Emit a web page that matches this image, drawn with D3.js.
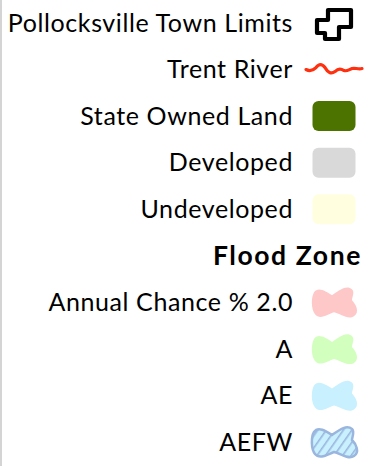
<!DOCTYPE html>
<html><head><meta charset="utf-8">
<script src="https://cdn.jsdelivr.net/npm/d3@7"></script>
<style>html,body{margin:0;padding:0;background:#fff;}svg{display:block;}</style>
</head><body>
<script>
const labels = ["Pollocksville Town Limits","Trent River","State Owned Land","Developed","Undeveloped","Flood Zone","Annual Chance % 2.0","A","AE","AEFW"];
const symbolTypes = ["outline","river","rect","rect","rect","header","blob","blob","blob","hatch"];
const fills = ["none","none","#4c7300","#d9d9d9","#ffffdf","none","#ffc8c8","#d3ffbe","#c8f0ff","#c8f0ff"];
const strokes = ["#000000","#ff3010","none","none","none","none","none","none","none","#9ab6de"];

const W = 367, H = 466;
const svg = d3.select("body").append("svg").attr("width", W).attr("height", H);

svg.append("line").attr("x1",1).attr("x2",1).attr("y1",0).attr("y2",H)
  .attr("stroke","#d4d4d4").attr("stroke-width",2);

const defs = svg.append("defs");
const pat = defs.append("pattern").attr("id","hatch").attr("patternUnits","userSpaceOnUse")
  .attr("width",7).attr("height",7).attr("patternTransform","rotate(35)");
pat.append("rect").attr("width",7).attr("height",7).attr("fill","#c8f0ff");
pat.append("line").attr("x1",0).attr("x2",0).attr("y1",0).attr("y2",7)
  .attr("stroke","#9ab6de").attr("stroke-width",3.2);

const y = d3.scalePoint().domain(labels).range([23, 442]);
const rows = labels.map((l,i)=>({label:l, type:symbolTypes[i], fill:fills[i], stroke:strokes[i]}));

const g = svg.selectAll("g.row").data(rows).join("g").attr("class","row")
  .attr("transform", d=>`translate(0,${y(d.label)})`);

g.append("text")
  .attr("x", d=> d.type==="header" ? 362 : 293)
  .attr("y", 0).attr("dy","0.35em")
  .attr("text-anchor","end")
  .attr("font-family","Lato, 'Open Sans', sans-serif")
  .attr("font-size", d=> d.type==="header" ? 26.5 : 25)
  .attr("letter-spacing", d=> d.type==="header" ? 1.6 : 0.6)
  .attr("font-weight", d=> d.type==="header" ? 700 : 400)
  .attr("fill","#000")
  .text(d=>d.label);

const blobPath = "M-20,-10 C-16,-16 -8,-11 -2,-7 C4,-11 12,-18 18,-13 C21,-10 18,-5 18,-2 C22,2 26,10 20,14 C14,18 6,11 0,10 C-6,12 -14,18 -19,12 C-23,7 -23,-5 -20,-10 Z";

g.each(function(d){
  const s = d3.select(this);
  const cx = 334;
  if (d.type==="rect") {
    s.append("rect").attr("x",cx-21.5).attr("y",-15).attr("width",43).attr("height",30)
      .attr("rx",6).attr("fill",d.fill);
  } else if (d.type==="outline") {
    s.append("path").attr("d","M328,-13 L351,-13 L351,4 L339,4 L339,16 L325,16 L325,10 L317,10 L317,-3 L328,-3 Z")
      .attr("fill","none").attr("stroke",d.stroke).attr("stroke-width",4.2).attr("stroke-linejoin","round");
  } else if (d.type==="river") {
    s.append("path").attr("d","M306,0 C310,2 313,1 316,-2 C319,-6 322,-6 325,-2 C328,3 331,5 335,2 C338,-1 341,-1 344,1 C347,2 349,0 352,-1 C355,-2 358,0 362,-1")
      .attr("fill","none").attr("stroke",d.stroke).attr("stroke-width",3.2).attr("stroke-linecap","round");
  } else if (d.type==="blob") {
    s.append("path").attr("d",blobPath).attr("transform",`translate(${cx},0)`).attr("fill",d.fill);
  } else if (d.type==="hatch") {
    s.append("path").attr("d",blobPath).attr("transform",`translate(${cx},0)`)
      .attr("fill","url(#hatch)").attr("stroke",d.stroke).attr("stroke-width",2.5);
  }
});
</script>
</body></html>
